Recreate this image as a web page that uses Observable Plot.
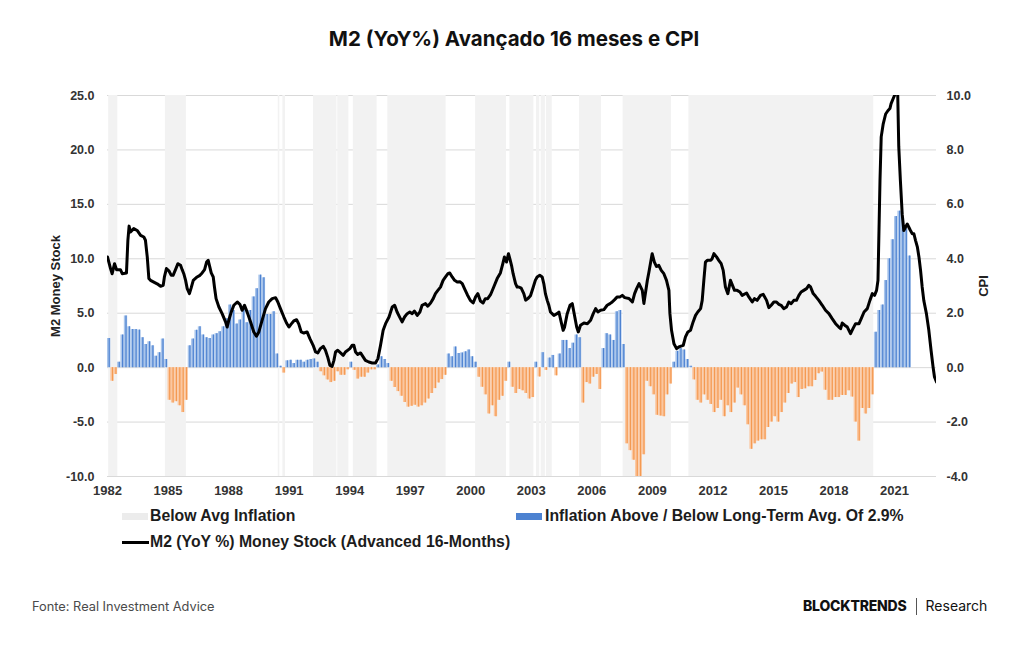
<!DOCTYPE html>
<html>
<head>
<meta charset="utf-8">
<script src="https://cdn.jsdelivr.net/npm/d3@7"></script>
<script src="https://cdn.jsdelivr.net/npm/@observablehq/plot@0.6"></script>
<style>
  html, body { margin: 0; padding: 0; background: #fff; }
  #page { position: relative; width: 1024px; height: 645px; overflow: hidden; background: #fff; }
  .abs { position: absolute; white-space: nowrap; }
  #title { left: 0; width: 1028px; top: 29px; text-align: center; font-family: Inter, "Noto Sans", sans-serif; font-weight: 700; font-size: 20.5px; line-height: 20.5px; color: #111; }
  #chart { position: absolute; left: 0; top: 80px; }
  .leg { font-family: "Liberation Sans", Arial, sans-serif; font-weight: bold; font-size: 15.8px; line-height: 15.8px; color: #1c1c1c; }
  .sw { position: absolute; }
  #source { left: 32px; top: 600px; font-family: Inter, sans-serif; font-size: 12.8px; line-height: 13px; color: #4a4a4a; }
  #brand { left: 803px; top: 598px; font-family: Inter, sans-serif; font-size: 14px; line-height: 15px; color: #111; }
</style>
</head>
<body>
<div id="page">
  <div id="title" class="abs">M2 (YoY%) Avançado 16 meses e CPI</div>
  <div id="chart"></div>

  <div class="sw" style="left:122px;top:512.5px;width:26px;height:7px;background:#ececec;"></div>
  <div class="abs leg" style="left:150px;top:508px;">Below Avg Inflation</div>
  <div class="sw" style="left:516px;top:512.5px;width:26px;height:7px;background:#4d82d1;"></div>
  <div class="abs leg" style="left:545px;top:508px;">Inflation Above / Below Long-Term Avg. Of 2.9%</div>
  <div class="sw" style="left:122px;top:541px;width:27px;height:2.5px;background:#000;"></div>
  <div class="abs leg" style="left:150px;top:534px;">M2 (YoY %) Money Stock (Advanced 16-Months)</div>

  <div id="source" class="abs">Fonte: Real Investment Advice</div>
  <div id="brand" class="abs"><span style="font-weight:800;letter-spacing:-0.2px;">BLOCKTRENDS</span><span style="display:inline-block;width:1px;height:17px;background:#555;margin:0 9px 0 9px;vertical-align:-4px;"></span><span style="font-weight:400;">Research</span></div>
</div>
<script>
// CPI minus its long-term average of 2.9%, one value every two months from Jan 1982
const cpiGap = [
  1.07, -0.5, -0.25, 0.2, 1.2, 1.9, 1.5, 1.4, 1.4, 1.38, 1.1, 0.85,
  0.95, 0.8, 0.42, 0.55, 1.05, 0.3, -1.2, -1.3, -1.25, -1.4, -1.65, -1.2,
  0.8, 1.05, 1.37, 1.5, 1.2, 1.1, 1.07, 1.2, 1.25, 1.32, 1.5, 1.8,
  2.3, 2.1, 1.6, 1.75, 2.15, 1.65, 2.1, 2.6, 2.9, 3.4, 3.3, 1.95,
  1.95, 2.05, 0.5, 0.05, -0.2, 0.25, 0.27, 0.15, 0.27, 0.27, 0.2, 0.27,
  0.3, 0.32, 0.2, -0.15, -0.3, -0.45, -0.55, -0.5, -0.15, -0.28, -0.28, -0.08,
  0.2, -0.1, -0.42, -0.35, -0.35, -0.2, -0.08, -0.08, 0.1, 0.4, 0.3, 0.15,
  -0.5, -0.73, -0.88, -1.05, -1.28, -1.45, -1.42, -1.38, -1.45, -1.4, -1.3, -1.15,
  -0.95, -0.77, -0.56, -0.44, -0.28, 0.5, 0.4, 0.76, 0.52, 0.54, 0.58, 0.65,
  0.4, 0.2, -0.35, -0.72, -1.0, -1.7, -1.4, -1.8, -1.2, -1.05, -0.5, 0.2,
  -0.72, -0.95, -0.8, -0.85, -0.95, -1.15, -1.1, 0.2, -0.34, 0.55, -0.1, 0.35,
  0.45, -0.3, 0.5, 1.0, 1.0, 0.7, 0.9, 1.2, 1.1, -1.3, -0.55, -0.6,
  -0.35, -0.25, -0.8, 0.7, 1.25, 1.2, 1.0, 2.05, 2.1, 0.85, -2.8, -3.05,
  -3.4, -4.0, -4.0, -3.2, -0.5, -0.7, -1.0, -1.75, -1.78, -1.8, -1.0, -0.6,
  0.2, 0.6, 0.7, 0.65, 0.3, 0.05, -0.45, -1.2, -1.3, -1.0, -1.2, -1.35,
  -1.65, -1.5, -1.2, -1.8, -1.4, -1.65, -1.3, -0.75, -1.0, -1.4, -2.1, -3.0,
  -2.8, -2.7, -2.65, -2.65, -2.2, -2.0, -1.8, -2.0, -1.65, -1.3, -0.95, -0.6,
  -0.55, -1.1, -0.8, -0.78, -0.7, -0.7, -0.47, -0.22, -0.16, -0.83, -1.2, -1.2,
  -1.1, -1.1, -1.02, -1.02, -0.85, -1.08, -2.0, -2.7, -1.5, -1.7, -1.5, -1.0,
  1.3, 2.1, 2.3, 3.2, 4.0, 4.7, 5.55, 5.75, 5.5, 5.1, 4.1
];
const cpiStartYear = 1982;
const cpiPerYear = 6;

// Periods of below-average inflation (start / end, decimal years)
const lowStart = [1982.06, 1984.87, 1990.46, 1990.69, 1992.21, 1993.41, 1994.18, 1995.89,
                  2000.24, 2001.94, 2003.26, 2003.49, 2003.75, 2005.39, 2007.55, 2010.81];
const lowEnd   = [1982.51, 1985.91, 1990.54, 1990.82, 1993.37, 1993.96, 1995.36, 1998.78,
                  2001.77, 2003.13, 2003.42, 2003.70, 2004.04, 2006.48, 2009.95, 2019.97];

// M2 money stock, year-over-year %, shifted forward 16 months
const m2Year = [
  1982.00, 1982.15, 1982.23, 1982.35, 1982.45, 1982.64, 1982.73, 1982.94, 1983.01, 1983.07,
  1983.14, 1983.30, 1983.47, 1983.64, 1983.80, 1983.88, 1983.97, 1984.05, 1984.13, 1984.46,
  1984.63, 1984.76, 1984.82, 1984.92, 1985.04, 1985.16, 1985.25, 1985.37, 1985.49, 1985.62,
  1985.70, 1985.78, 1985.87, 1985.95, 1986.06, 1986.15, 1986.25, 1986.44, 1986.58, 1986.69,
  1986.81, 1986.91, 1986.99, 1987.05, 1987.14, 1987.24, 1987.30, 1987.38, 1987.52, 1987.68,
  1987.85, 1987.93, 1988.01, 1988.13, 1988.26, 1988.43, 1988.56, 1988.67, 1988.79, 1988.92,
  1989.09, 1989.25, 1989.38, 1989.50, 1989.66, 1989.83, 1989.99, 1990.16, 1990.33, 1990.44,
  1990.57, 1990.74, 1990.87, 1990.99, 1991.10, 1991.23, 1991.37, 1991.48, 1991.60, 1991.73,
  1991.89, 1992.03, 1992.19, 1992.31, 1992.42, 1992.55, 1992.69, 1992.80, 1992.92, 1993.02,
  1993.13, 1993.22, 1993.30, 1993.41, 1993.55, 1993.68, 1993.79, 1994.01, 1994.12, 1994.21,
  1994.29, 1994.40, 1994.54, 1994.62, 1994.78, 1994.95, 1995.12, 1995.28, 1995.40, 1995.53,
  1995.66, 1995.78, 1995.95, 1996.11, 1996.23, 1996.35, 1996.49, 1996.60, 1996.72, 1996.85,
  1996.98, 1997.10, 1997.21, 1997.35, 1997.48, 1997.59, 1997.76, 1997.87, 1998.01, 1998.14,
  1998.25, 1998.37, 1998.50, 1998.63, 1998.75, 1998.87, 1998.96, 1999.08, 1999.20, 1999.33,
  1999.46, 1999.58, 1999.69, 1999.83, 1999.98, 2000.12, 2000.24, 2000.35, 2000.48, 2000.61,
  2000.72, 2000.84, 2000.98, 2001.14, 2001.31, 2001.47, 2001.59, 2001.67, 2001.77, 2001.87,
  2001.94, 2002.02, 2002.10, 2002.22, 2002.30, 2002.38, 2002.50, 2002.63, 2002.72, 2002.83,
  2002.96, 2003.08, 2003.20, 2003.29, 2003.42, 2003.54, 2003.62, 2003.70, 2003.79, 2003.87,
  2003.95, 2004.12, 2004.28, 2004.37, 2004.48, 2004.58, 2004.65, 2004.78, 2004.92, 2005.03,
  2005.11, 2005.25, 2005.33, 2005.44, 2005.61, 2005.78, 2005.94, 2006.07, 2006.19, 2006.30,
  2006.43, 2006.60, 2006.76, 2006.90, 2007.01, 2007.13, 2007.26, 2007.40, 2007.51, 2007.63,
  2007.84, 2008.01, 2008.12, 2008.22, 2008.34, 2008.50, 2008.58, 2008.75, 2008.83, 2008.99,
  2009.10, 2009.20, 2009.32, 2009.44, 2009.57, 2009.70, 2009.82, 2009.87, 2009.95, 2010.07,
  2010.20, 2010.31, 2010.53, 2010.64, 2010.76, 2010.89, 2011.02, 2011.14, 2011.25, 2011.39,
  2011.47, 2011.55, 2011.63, 2011.72, 2011.88, 2011.96, 2012.05, 2012.18, 2012.29, 2012.41,
  2012.51, 2012.62, 2012.74, 2012.87, 2012.97, 2013.07, 2013.20, 2013.34, 2013.45, 2013.67,
  2013.78, 2013.95, 2014.06, 2014.19, 2014.36, 2014.49, 2014.66, 2014.77, 2014.89, 2015.02,
  2015.15, 2015.27, 2015.38, 2015.51, 2015.65, 2015.76, 2015.88, 2016.01, 2016.14, 2016.26,
  2016.37, 2016.50, 2016.64, 2016.75, 2016.84, 2016.97, 2017.09, 2017.25, 2017.42, 2017.58,
  2017.75, 2017.91, 2018.08, 2018.24, 2018.33, 2018.41, 2018.53, 2018.66, 2018.82, 2018.94,
  2019.07, 2019.24, 2019.35, 2019.49, 2019.65, 2019.78, 2019.90, 2020.01, 2020.11, 2020.18,
  2020.28, 2020.34, 2020.44, 2020.56, 2020.67, 2020.77, 2020.83, 2020.93, 2021.00, 2021.08,
  2021.16, 2021.21, 2021.29, 2021.38, 2021.46, 2021.54, 2021.63, 2021.71, 2021.79, 2021.88,
  2021.96, 2022.04, 2022.13, 2022.21, 2022.29, 2022.37, 2022.45, 2022.58, 2022.70, 2022.81,
  2022.91, 2022.98, 2023.08
];
const m2Value = [
  10.17, 9.1, 8.63, 9.55, 9.0, 9.0, 8.63, 8.7, 11.7, 13.0,
  12.46, 12.77, 12.6, 12.15, 12.0, 11.7, 10.17, 8.18, 8.02, 7.7,
  7.47, 7.56, 8.33, 9.1, 8.9, 8.48, 8.48, 9.0, 9.55, 9.4,
  9.0, 8.63, 8.02, 7.26, 6.8, 7.35, 8.02, 8.33, 8.48, 8.7,
  9.0, 9.7, 9.86, 9.4, 8.7, 8.33, 7.41, 6.34, 5.57, 4.96,
  4.2, 3.73, 4.35, 5.1, 5.73, 6.03, 5.82, 5.27, 5.73, 5.1,
  4.2, 3.28, 2.88, 3.28, 4.35, 5.42, 6.03, 6.34, 6.43, 6.03,
  5.42, 4.65, 4.1, 3.73, 4.0, 4.29, 4.4, 4.0, 3.28, 3.18,
  3.28, 2.66, 2.05, 1.44, 1.35, 1.75, 1.96, 1.6, 0.92, 0.21,
  0.12, 0.67, 1.44, 1.6, 1.35, 1.13, 1.44, 1.75, 2.05, 2.05,
  1.44, 1.22, 1.35, 1.13, 0.67, 0.52, 0.43, 0.43, 0.83, 2.05,
  3.43, 4.04, 4.65, 5.57, 5.73, 5.11, 4.6, 4.2, 4.65, 4.96,
  5.11, 4.96, 5.2, 4.8, 5.11, 5.73, 5.88, 5.65, 5.94, 6.34,
  6.8, 7.1, 7.4, 8.02, 8.33, 8.63, 8.7, 8.33, 8.02, 7.87,
  7.9, 7.72, 7.26, 6.7, 6.18, 5.94, 6.5, 6.8, 6.12, 5.94,
  6.34, 6.34, 6.7, 7.41, 8.18, 8.7, 9.55, 10.17, 9.7, 10.47,
  10.0, 9.4, 8.63, 7.72, 7.4, 7.41, 7.3, 6.8, 6.2, 6.34,
  6.6, 7.3, 8.02, 8.33, 8.48, 8.33, 7.72, 6.8, 6.18, 5.73,
  5.11, 4.8, 4.96, 5.11, 4.2, 3.43, 3.73, 4.96, 5.73, 5.88,
  5.11, 3.73, 3.28, 3.9, 4.1, 4.04, 4.35, 4.96, 5.42, 5.11,
  5.27, 5.33, 5.73, 5.88, 6.03, 6.25, 6.5, 6.5, 6.64, 6.43,
  6.35, 6.03, 6.8, 7.26, 7.72, 7.1, 5.9, 8.0, 8.79, 10.47,
  9.7, 9.3, 9.4, 8.94, 8.63, 8.02, 7.1, 4.96, 3.43, 2.2,
  1.75, 1.9, 2.05, 2.82, 3.28, 3.43, 4.2, 4.8, 5.11, 5.42,
  6.18, 8.0, 9.7, 9.86, 9.86, 10.0, 10.47, 10.17, 9.86, 9.55,
  8.94, 7.41, 6.8, 8.02, 7.56, 7.1, 7.1, 6.95, 6.64, 6.86,
  6.5, 6.03, 6.34, 6.18, 6.64, 6.74, 6.18, 5.51, 5.73, 6.03,
  6.03, 5.82, 5.73, 5.42, 5.57, 6.03, 5.88, 6.18, 6.18, 6.64,
  6.95, 7.1, 7.26, 7.56, 7.41, 6.8, 6.55, 6.18, 5.73, 5.27,
  4.96, 4.5, 4.04, 3.73, 3.58, 4.1, 3.9, 3.73, 3.12, 3.58,
  4.04, 4.04, 4.5, 5.11, 5.42, 6.18, 6.8, 6.64, 7.1, 8.02,
  17.2, 21.2, 22.4, 23.3, 23.6, 23.8, 24.25, 24.7, 25.0, 26.0,
  25.0, 20.3, 17.2, 14.1, 12.6, 12.9, 13.2, 12.9, 12.6, 12.3,
  12.3, 11.7, 11.1, 10.17, 8.94, 7.41, 6.18, 4.96, 3.43, 1.6,
  0.06, -0.86, -1.32
];

// Axis ticks
const m2Ticks = [-10, -5, 0, 5, 10, 15, 20, 25];
const yearTicks = [1982, 1985, 1988, 1991, 1994, 1997, 2000, 2003, 2006, 2009, 2012, 2015, 2018, 2021];

// The CPI axis on the right is the M2 axis divided by this factor
const cpiScale = 2.5;

const bars = cpiGap.map((v, i) => ({
  x1: cpiStartYear + i / cpiPerYear,
  x2: cpiStartYear + (i + 1) / cpiPerYear,
  xm: cpiStartYear + (i + 0.5) / cpiPerYear,
  v
}));
const lows = lowStart.map((s, i) => ({s, e: lowEnd[i]}));
const m2 = m2Year.map((t, i) => ({t, v: m2Value[i]}));

const blueLight = "#a9c5eb", blueDark = "#4d82d1";
const orangeLight = "#fbc7a0", orangeDark = "#f49a52";
const tickFont = {fontSize: 12.5, fontWeight: "bold", fill: "#333"};

const chart = Plot.plot({
  width: 1024,
  height: 425,
  marginLeft: 107,
  marginRight: 88,
  marginTop: 15,
  marginBottom: 29,
  style: {fontFamily: "'Liberation Sans', Arial, sans-serif", fontSize: "12px", fontWeight: "bold", background: "transparent"},
  x: {type: "linear", domain: [1982, 2023.08]},
  y: {domain: [-10, 25]},
  marks: [
    Plot.ruleY(m2Ticks, {stroke: "#d9d9d9", strokeWidth: 1}),
    Plot.rect(lows, {x1: "s", x2: "e", y1: -10, y2: 25, fill: "#f2f2f2"}),
    Plot.rectY(bars, {x1: "x1", x2: "x2", y1: 0, y2: d => d.v * cpiScale,
      fill: d => d.v >= 0 ? blueLight : orangeLight, clip: true}),
    Plot.ruleX(bars, {x: "xm", y1: 0, y2: d => d.v * cpiScale,
      stroke: d => d.v >= 0 ? blueDark : orangeDark, strokeWidth: 1.2, clip: true}),
    Plot.line(m2, {x: "t", y: "v", stroke: "#000", strokeWidth: 3, strokeLinejoin: "round", clip: true}),
    Plot.axisY({anchor: "left", ticks: m2Ticks, tickSize: 0, tickPadding: 13,
      tickFormat: d => d.toFixed(1), label: null, ...tickFont}),
    Plot.axisY({anchor: "right", ticks: m2Ticks, tickSize: 0, tickPadding: 10,
      tickFormat: d => (d / cpiScale).toFixed(1), label: null, ...tickFont}),
    Plot.axisX({ticks: yearTicks, tickSize: 0, tickPadding: 9,
      tickFormat: d => String(d), label: null, ...tickFont, fontSize: 13}),
    Plot.text(["M2 Money Stock"], {frameAnchor: "left", dx: -52, rotate: -90, text: d => d,
      textAnchor: "middle", fontSize: 13, fontWeight: "bold", fill: "#222"}),
    Plot.text(["CPI"], {frameAnchor: "right", dx: 47, rotate: -90, text: d => d,
      textAnchor: "middle", fontSize: 13, fontWeight: "bold", fill: "#222"})
  ]
});
document.getElementById("chart").appendChild(chart);
</script>
</body>
</html>
